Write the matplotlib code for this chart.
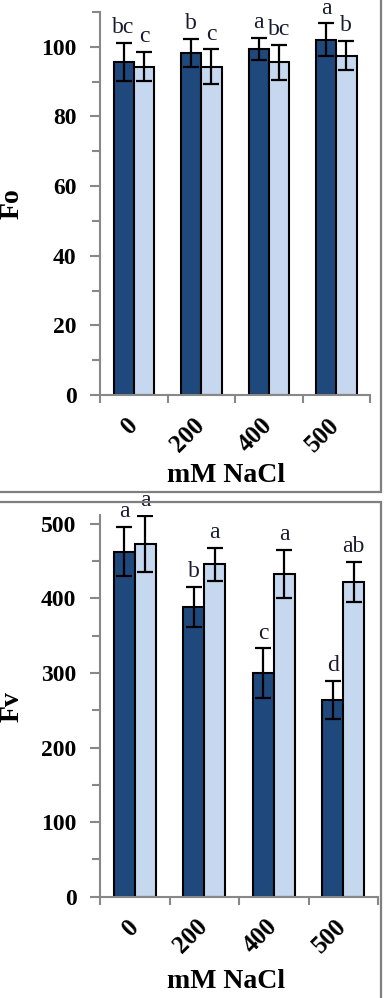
import numpy as np
import matplotlib
matplotlib.use('Agg')
import matplotlib.pyplot as plt
from matplotlib.patches import Rectangle
from matplotlib.ticker import MultipleLocator, FixedLocator

# data
salt = ['0', '200', '400', '500']

fo_dark = [95.6, 98.2, 99.4, 102.0]
fo_dark_err = [5.5, 4.1, 3.2, 4.7]
fo_light = [94.3, 94.3, 95.6, 97.5]
fo_light_err = [4.2, 5.0, 5.0, 4.3]
fo_dark_let = ['bc', 'b', 'a', 'a']
fo_light_let = ['c', 'c', 'bc', 'b']

fv_dark = [463, 389, 300, 264]
fv_dark_err = [33, 27, 33, 26]
fv_light = [473, 446, 433, 422]
fv_light_err = [38, 22, 32, 27]
fv_dark_let = ['a', 'b', 'c', 'd']
fv_light_let = ['a', 'a', 'a', 'ab']

DARK = '#1F497D'
LIGHT = '#C6D8EF'
GREY = '#888888'
W, H = 385, 998

plt.rcParams['font.family'] = ['Liberation Serif', 'DejaVu Serif']

fig = plt.figure(figsize=(W / 100, H / 100), dpi=100)


def px_axes(x0, x1, ytop, ybot):
	return fig.add_axes([x0 / W, 1 - ybot / H, (x1 - x0) / W, (ybot - ytop) / H])


def panel(ax, dark, dark_err, light, light_err, dark_let, light_let, ymax, major, minor, ylab, label_pos, xlab_pos):
	x = np.arange(len(salt))
	bw = 0.3
	ax.bar(x - bw / 2, dark, bw, color=DARK, edgecolor='black', linewidth=1.5, zorder=2)
	ax.bar(x + bw / 2, light, bw, color=LIGHT, edgecolor='black', linewidth=1.5, zorder=2)
	ax.errorbar(x - bw / 2, dark, yerr=dark_err, fmt='none', ecolor='black', elinewidth=1.6, capsize=6, capthick=1.6, zorder=3)
	ax.errorbar(x + bw / 2, light, yerr=light_err, fmt='none', ecolor='black', elinewidth=1.6, capsize=6, capthick=1.6, zorder=3)

	for i in range(len(salt)):
		ax.annotate(dark_let[i], (x[i] - bw / 2, dark[i] + dark_err[i]), xytext=(0, 7), textcoords='offset points',
					ha='center', va='baseline', fontsize=17, color='#1a1a2e', annotation_clip=False)
		ax.annotate(light_let[i], (x[i] + bw / 2, light[i] + light_err[i]), xytext=(0, 7), textcoords='offset points',
					ha='center', va='baseline', fontsize=17, color='#1a1a2e', annotation_clip=False)

	ax.set_xlim(-0.5, len(salt) - 0.5)
	ax.set_ylim(0, ymax)

	for s in ['top', 'right']:
		ax.spines[s].set_visible(False)
	for s in ['left', 'bottom']:
		ax.spines[s].set_color(GREY)
		ax.spines[s].set_linewidth(1.5)

	ax.yaxis.set_major_locator(MultipleLocator(major))
	ax.yaxis.set_minor_locator(MultipleLocator(minor))
	ax.tick_params(axis='y', which='major', length=7, width=1.5, color=GREY, pad=10, labelsize=17)
	ax.tick_params(axis='y', which='minor', length=6, width=1.5, color=GREY)
	for t in ax.get_yticklabels():
		t.set_fontweight('bold')

	# category boundaries as ticks, labels at the centres
	ax.xaxis.set_major_locator(FixedLocator(np.arange(len(salt) + 1) - 0.5))
	ax.xaxis.set_minor_locator(FixedLocator(x))
	ax.set_xticklabels([''] * (len(salt) + 1))
	ax.set_xticks(x, salt, minor=True)
	ax.tick_params(axis='x', which='major', length=6, width=1.5, color=GREY)
	ax.tick_params(axis='x', which='minor', length=0, pad=19, labelsize=18)
	for t in ax.get_xticklabels(minor=True):
		t.set_rotation(45)
		t.set_ha('right')
		t.set_va('center')
		t.set_rotation_mode('anchor')
		t.set_fontweight('bold')

	ax.set_ylabel(ylab, fontsize=20, fontweight='bold', va='center', ha='center')
	ax.yaxis.set_label_coords(*label_pos)
	ax.set_xlabel('mM NaCl', fontsize=20, fontweight='bold', va='center', ha='center')
	ax.xaxis.set_label_coords(*xlab_pos)


ax1 = px_axes(100, 370, 12, 395)
panel(ax1, fo_dark, fo_dark_err, fo_light, fo_light_err, fo_dark_let, fo_light_let,
	  110, 20, 10, 'Fo', (-0.326, 0.5), (0.467, -0.211))

ax2 = px_axes(100, 378, 515, 896.7)
panel(ax2, fv_dark, fv_dark_err, fv_light, fv_light_err, fv_dark_let, fv_light_let,
	  512, 100, 50, 'Fv', (-0.317, 0.497), (0.453, -0.223))

# the two boxes around the panels
fig.add_artist(Rectangle((-5 / W, 1 - 492 / H), 386 / W, 497 / H, transform=fig.transFigure,
						 fill=False, edgecolor='#7f7f7f', linewidth=1.6))
fig.add_artist(Rectangle((-5 / W, -5 / H), 386 / W, (H - 502 + 5) / H, transform=fig.transFigure,
						 fill=False, edgecolor='#7f7f7f', linewidth=1.6))

plt.savefig('out.png', dpi=100)
